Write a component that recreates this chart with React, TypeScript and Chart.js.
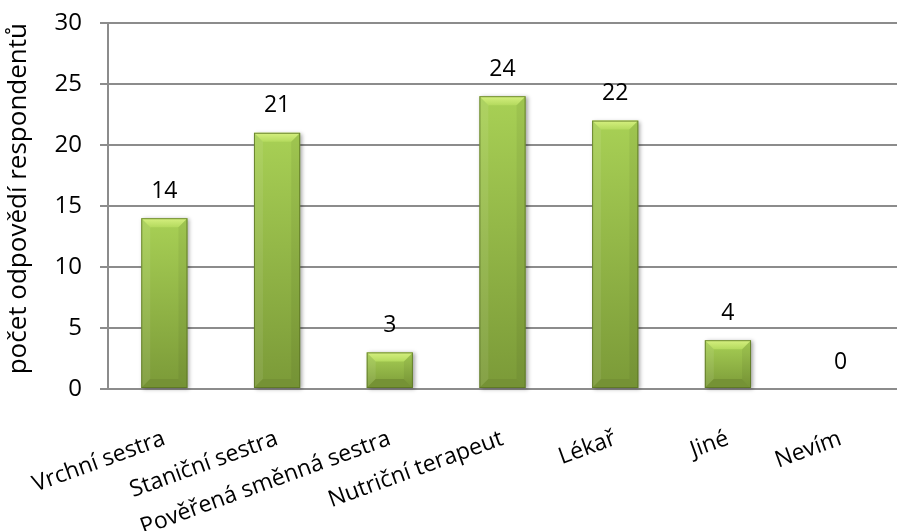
import React, { useEffect, useRef } from "react";
import { Chart, registerables } from "chart.js";

Chart.register(...registerables);

const categories = [
  "Vrchní sestra",
  "Staniční sestra",
  "Pověřená směnná sestra",
  "Nutriční terapeut",
  "Lékař",
  "Jiné",
  "Nevím",
];
const values = [14, 21, 3, 24, 22, 4, 0];
const yMin = 0;
const yMax = 30;
const yStep = 5;
const yTitle = "počet odpovědí respondentů";

const FONT = "'Open Sans', sans-serif";

const bevelPlugin = {
  id: "bevelBars",
  afterDatasetsDraw(chart: any) {
    const ctx = chart.ctx as CanvasRenderingContext2D;
    const meta = chart.getDatasetMeta(0);
    meta.data.forEach((el: any, i: number) => {
      const { x, y, base, width } = el.getProps(["x", "y", "base", "width"], true);
      const l = x - width / 2;
      const r = x + width / 2;
      const t = Math.min(y, base);
      const b = Math.max(y, base);
      const h = b - t;
      if (h >= 1) {
        ctx.save();
        ctx.shadowColor = "rgba(0,0,0,0.35)";
        ctx.shadowBlur = 4;
        ctx.shadowOffsetX = 2;
        ctx.shadowOffsetY = 1;
        const g = ctx.createLinearGradient(0, t, 0, b);
        g.addColorStop(0, "#a8d055");
        g.addColorStop(1, "#7b9a38");
        ctx.fillStyle = g;
        ctx.fillRect(l, t, width, h);
        ctx.restore();

        const bv = Math.min(9, h / 2, width / 2);
        ctx.save();
        ctx.beginPath();
        ctx.moveTo(l, t);
        ctx.lineTo(r, t);
        ctx.lineTo(r - bv, t + bv);
        ctx.lineTo(l + bv, t + bv);
        ctx.closePath();
        const tg = ctx.createLinearGradient(0, t, 0, t + bv);
        tg.addColorStop(0, "#d6f080");
        tg.addColorStop(1, "#b4da5e");
        ctx.fillStyle = tg;
        ctx.fill();
        ctx.beginPath();
        ctx.moveTo(l, t);
        ctx.lineTo(l + bv, t + bv);
        ctx.lineTo(l + bv, b - bv);
        ctx.lineTo(l, b);
        ctx.closePath();
        ctx.fillStyle = "rgba(255,255,255,0.08)";
        ctx.fill();
        ctx.beginPath();
        ctx.moveTo(r, t);
        ctx.lineTo(r - bv, t + bv);
        ctx.lineTo(r - bv, b - bv);
        ctx.lineTo(r, b);
        ctx.closePath();
        ctx.fillStyle = "rgba(0,0,0,0.05)";
        ctx.fill();
        ctx.beginPath();
        ctx.moveTo(l, b);
        ctx.lineTo(r, b);
        ctx.lineTo(r - bv, b - bv);
        ctx.lineTo(l + bv, b - bv);
        ctx.closePath();
        ctx.fillStyle = "#759235";
        ctx.fill();
        ctx.strokeStyle = "rgba(90,115,35,0.8)";
        ctx.lineWidth = 1;
        ctx.strokeRect(l + 0.5, t + 0.5, width - 1, h - 1);
        ctx.restore();
      }
      ctx.save();
      ctx.fillStyle = "#000";
      ctx.font = `23px ${FONT}`;
      ctx.textAlign = "center";
      ctx.textBaseline = "middle";
      ctx.fillText(String(values[i]), x, y - 27);
      ctx.restore();
    });
  },
};

export default function App() {
  const ref = useRef<HTMLCanvasElement>(null);
  useEffect(() => {
    document.body.style.margin = "0";
    const chart = new Chart(ref.current!, {
      type: "bar",
      data: {
        labels: categories,
        datasets: [
          {
            data: values,
            backgroundColor: "rgba(0,0,0,0)",
            borderWidth: 0,
            categoryPercentage: 1,
            barPercentage: 0.41,
          },
        ],
      },
      plugins: [bevelPlugin],
      options: {
        animation: false,
        responsive: true,
        maintainAspectRatio: false,
        layout: { padding: { top: 23, right: 0, left: 0, bottom: 0 } },
        plugins: { legend: { display: false }, tooltip: { enabled: false } },
        scales: {
          x: {
            grid: { display: false },
            border: { display: true, color: "#8c8c8c", width: 2 },
            ticks: {
              minRotation: 20,
              maxRotation: 20,
              color: "#000",
              padding: 28,
              font: { family: FONT, size: 23 },
            },
            afterFit(scale: any) {
              scale.height = 142;
              scale.paddingLeft = 0;
              scale.paddingRight = 0;
              scale.paddingTop = 0;
              scale.paddingBottom = 0;
            },
          },
          y: {
            min: yMin,
            max: yMax,
            ticks: {
              stepSize: yStep,
              color: "#000",
              padding: 18,
              font: { family: FONT, size: 24 },
            },
            grid: { color: "#8c8c8c", lineWidth: 2, tickLength: 8 },
            border: { display: true, color: "#8c8c8c", width: 2 },
            title: {
              display: true,
              text: yTitle,
              align: "end",
              color: "#000",
              font: { family: FONT, size: 26 },
              padding: 3,
            },
            afterFit(scale: any) {
              scale.width = 108;
              scale.paddingTop = 0;
              scale.paddingBottom = 0;
              scale.paddingLeft = 0;
              scale.paddingRight = 0;
            },
          },
        },
      },
    });
    return () => chart.destroy();
  }, []);
  return (
    <div style={{ position: "absolute", left: 0, top: 0, width: 897, height: 531 }}>
      <canvas ref={ref} />
    </div>
  );
}
